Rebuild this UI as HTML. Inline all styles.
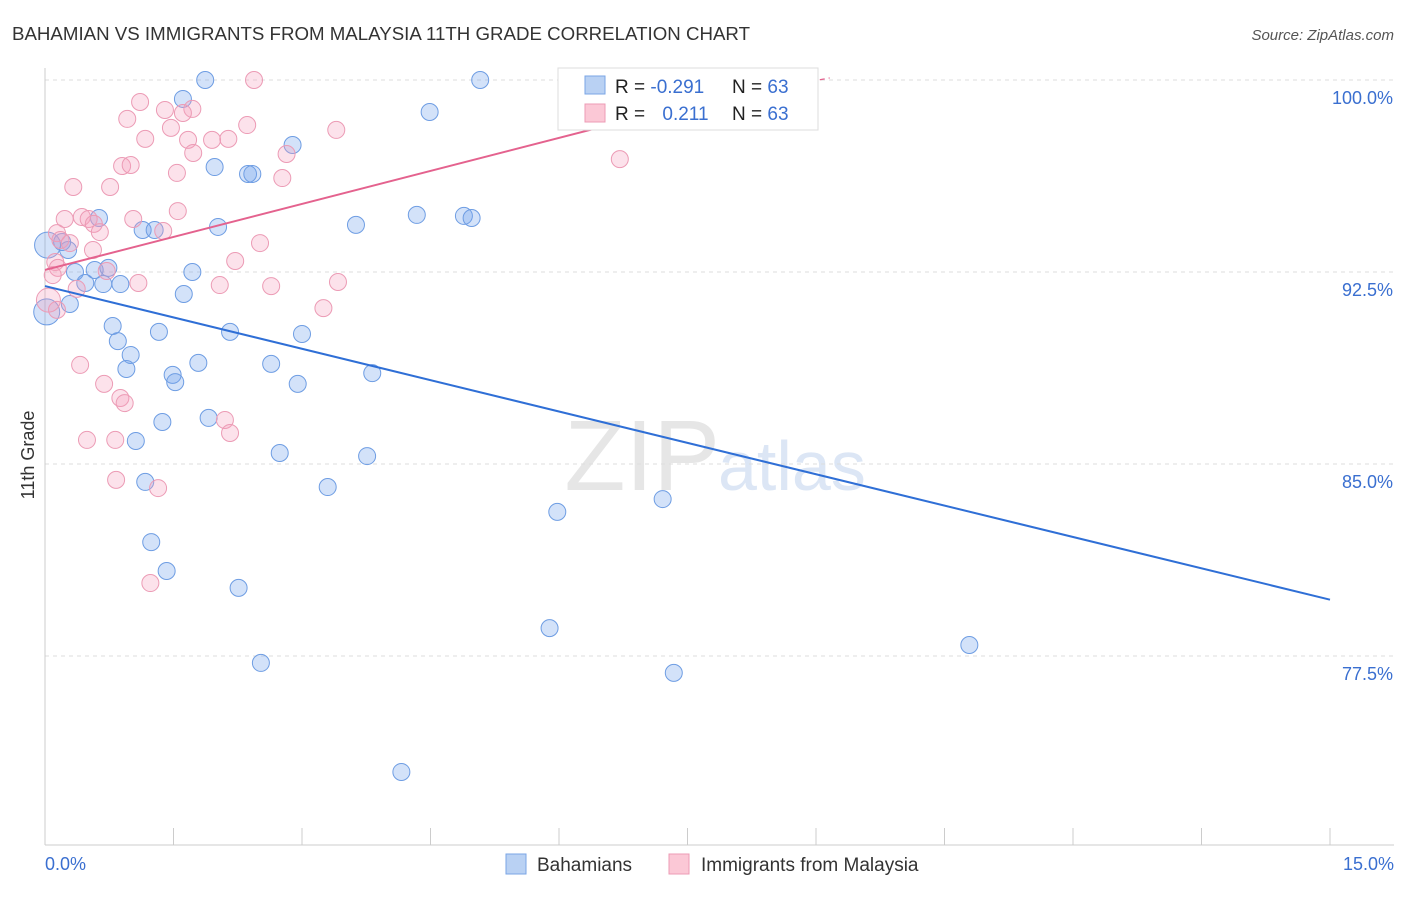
<!DOCTYPE html>
<html><head><meta charset="utf-8"><style>
body{margin:0;background:#fff;font-family:"Liberation Sans",sans-serif}
svg text{font-family:"Liberation Sans",sans-serif}
</style></head><body>
<svg width="1406" height="892" viewBox="0 0 1406 892">
<text x="12" y="40" font-size="18" fill="#333" textLength="738" lengthAdjust="spacingAndGlyphs">BAHAMIAN VS IMMIGRANTS FROM MALAYSIA 11TH GRADE CORRELATION CHART</text>
<text x="1394" y="40" font-size="15" fill="#555" font-style="italic" text-anchor="end">Source: ZipAtlas.com</text>
<text x="720" y="490" font-size="100" fill="#e6e6e6" text-anchor="end" font-family="Liberation Serif">ZIP</text>
<text x="718" y="490" font-size="70" fill="#dce6f5">atlas</text>
<g id="grid"></g>
<g id="axes"></g>
<g id="pts"></g>
<g id="lines"></g>
<text x="34" y="455" font-size="18" fill="#333" text-anchor="middle" transform="rotate(-90 34 455)">11th Grade</text>
<text x="45" y="870" font-size="18" fill="#3a6fd0">0.0%</text>
<text x="1394" y="870" font-size="18" fill="#3a6fd0" text-anchor="end">15.0%</text>
<g>
<rect x="558" y="68" width="260" height="62" fill="#fff" stroke="#ddd"/>
<rect x="585" y="76" width="20" height="18" fill="#b9d1f3" stroke="#7aa5e6"/>
<rect x="585" y="104" width="20" height="18" fill="#fbc8d6" stroke="#ec9bb5"/>
<text x="615" y="93" font-size="19" fill="#222">R = <tspan fill="#3a6fd0">-0.291</tspan></text>
<text x="732" y="93" font-size="19" fill="#222">N = <tspan fill="#3a6fd0">63</tspan></text>
<text x="615" y="120" font-size="19" fill="#222">R = <tspan fill="#3a6fd0" dx="12">0.211</tspan></text>
<text x="732" y="120" font-size="19" fill="#222">N = <tspan fill="#3a6fd0">63</tspan></text>
</g>
<g>
<rect x="506" y="854" width="20" height="20" fill="#b9d1f3" stroke="#7aa5e6"/>
<text x="537" y="871" font-size="19" fill="#333">Bahamians</text>
<rect x="669" y="854" width="20" height="20" fill="#fbc8d6" stroke="#ec9bb5"/>
<text x="701" y="871" font-size="19" fill="#333">Immigrants from Malaysia</text>
</g>
</svg>
<script>
const yTicks=[100,92.5,85,77.5];
const yTickLabels=["100.0%","92.5%","85.0%","77.5%"];
const xTicks=[0,1.5,3,4.5,6,7.5,9,10.5,12,13.5,15];
const blueX=[1.87,5.08,1.61,4.49,2.89,1.98,2.37,2.42,4.34,4.89,4.98,3.63,2.02,0.63,1.14,1.28,0.2,0.27,0.35,0.58,0.74,1.72,0.47,0.68,0.88,1.62,0.29,0.79,1.33,2.16,3.0,0.85,1.0,0.95,1.79,2.64,1.49,1.52,2.95,3.82,1.37,1.91,1.06,2.74,3.76,1.17,3.3,5.98,7.21,1.24,1.42,2.26,5.89,10.79,2.52,7.34,4.16,0.02,0.03];
const blueY=[100,100,99.26,98.75,97.46,96.6,96.33,96.33,94.73,94.69,94.61,94.34,94.26,94.61,94.14,94.14,93.67,93.36,92.5,92.58,92.66,92.5,92.07,92.03,92.03,91.64,91.25,90.39,90.16,90.16,90.08,89.8,89.26,88.71,88.95,88.91,88.48,88.2,88.13,88.55,86.64,86.8,85.9,85.43,85.31,84.3,84.1,83.13,83.63,81.95,80.82,80.16,78.59,77.93,77.23,76.84,72.97,90.94,93.55];
const pinkX=[2.44,1.11,1.4,1.72,1.61,0.96,2.36,1.47,3.4,1.17,1.95,2.14,1.67,1.73,2.82,0.9,1.0,1.54,2.77,6.71,0.33,0.76,1.55,0.23,0.43,0.51,1.03,0.57,0.64,1.38,0.14,0.18,0.29,0.56,2.51,2.22,0.12,0.15,0.09,0.72,1.09,2.04,2.64,3.42,0.37,3.25,0.14,0.41,0.69,0.88,0.93,2.1,2.16,0.49,0.82,0.83,1.32,1.23,0.04];
const pinkY=[100,99.14,98.83,98.87,98.71,98.48,98.24,98.13,98.05,97.7,97.66,97.7,97.66,97.15,97.11,96.64,96.68,96.37,96.17,96.91,95.82,95.82,94.88,94.57,94.65,94.57,94.57,94.38,94.06,94.1,94.02,93.75,93.63,93.36,93.63,92.93,92.89,92.66,92.38,92.54,92.07,91.99,91.95,92.11,91.84,91.09,91.02,88.87,88.13,87.58,87.38,86.72,86.21,85.94,85.94,84.38,84.06,80.35,91.4];
const blueTrend=[[0,91.95],[15,79.7]];
const pinkTrend=[[0,92.58],[7.7,99.2],[9.16,100.08]];
const NS="http://www.w3.org/2000/svg";
const sx=v=>45+v*(1285/15);
const sy=v=>80+(100-v)*(192/7.5);
function mk(t,a,p){const e=document.createElementNS(NS,t);for(const k in a)e.setAttribute(k,a[k]);p.appendChild(e);return e;}
const grid=document.getElementById('grid'),axes=document.getElementById('axes'),pts=document.getElementById('pts'),lines=document.getElementById('lines');
yTicks.forEach((v,i)=>{
 const l=mk('line',{x1:45,x2:1394,y1:sy(v),y2:sy(v),stroke:'#ddd','stroke-dasharray':'4,4'},grid);
 
 
 const t=mk('text',{x:1393,y:sy(v)+24,'font-size':18,fill:'#3a6fd0','text-anchor':'end'},axes);
 t.textContent=yTickLabels[i];
 
 
});
const ax=mk('line',{x1:45,x2:45,y1:68,y2:845,stroke:'#ccc'},axes);


const bx=mk('line',{x1:45,x2:1394,y1:845,y2:845,stroke:'#ccc'},axes);


xTicks.forEach(v=>{
 const l=mk('line',{x1:sx(v),x2:sx(v),y1:828,y2:845,stroke:'#ccc'},axes);
 
 
});
blueX.forEach((v,i)=>{
 const big=i>=57;
 const c=mk('circle',{cx:sx(v),cy:sy(blueY[i]),r:big?13:8.5,fill:'rgba(110,160,235,0.3)',stroke:'#6e9de3','stroke-width':1},pts);
 
 
});
pinkX.forEach((v,i)=>{
 const big=i>=58;
 const c=mk('circle',{cx:sx(v),cy:sy(pinkY[i]),r:big?12:8.5,fill:'rgba(245,160,190,0.3)',stroke:'#ec9bb5','stroke-width':1},pts);
 
 
});
const b=mk('line',{x1:sx(blueTrend[0][0]),y1:sy(blueTrend[0][1]),x2:sx(blueTrend[1][0]),y2:sy(blueTrend[1][1]),stroke:'#2f6fd6','stroke-width':2},lines);


const p=mk('line',{x1:sx(pinkTrend[0][0]),y1:sy(pinkTrend[0][1]),x2:sx(pinkTrend[1][0]),y2:sy(pinkTrend[1][1]),stroke:'#e4628e','stroke-width':2},lines);


const pd=mk('line',{x1:sx(pinkTrend[1][0]),y1:sy(pinkTrend[1][1]),x2:sx(pinkTrend[2][0]),y2:sy(pinkTrend[2][1]),stroke:'#e4628e','stroke-width':1.2,'stroke-dasharray':'5,4'},lines);


</script>
</body></html>
